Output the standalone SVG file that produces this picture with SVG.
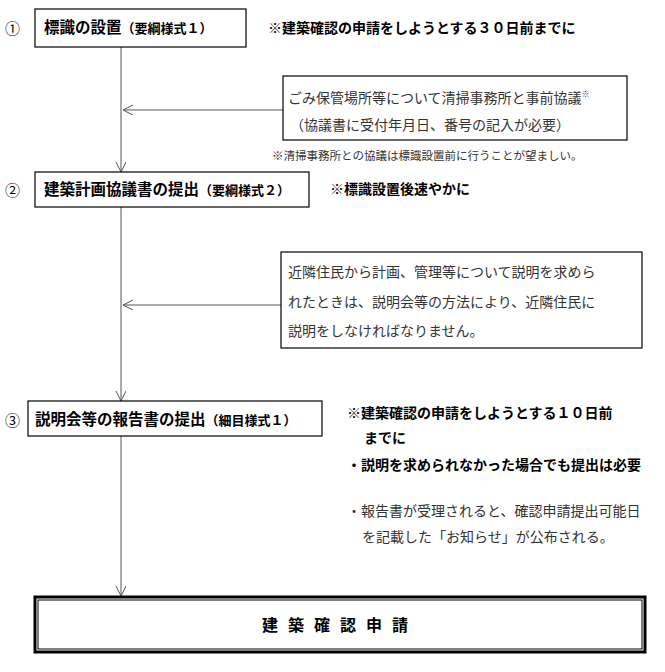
<svg xmlns="http://www.w3.org/2000/svg" width="665" height="672" viewBox="0 0 665 672">
<style>
text{font-family:"Noto Sans CJK JP","Liberation Sans",sans-serif;fill:#000}
.b{font-size:14px;font-weight:bold}
.lb{font-size:15.5px;font-weight:bold}
.p{font-size:13px}
.n{font-size:14px;fill:#333}
.s{font-size:11.5px;fill:#333}
.box{fill:#fff;stroke:#000;stroke-width:1.2}
.ln{stroke:#555;stroke-width:1;fill:none}
</style>
<defs><marker id="a" markerWidth="12" markerHeight="12" refX="10" refY="5" orient="auto" markerUnits="userSpaceOnUse"><path d="M0,0 L10,5 L0,10" fill="none" stroke="#555"/></marker></defs>
<rect width="665" height="672" fill="#fff"/>
<g id="connectors">
<line class="ln" x1="121" y1="47" x2="121" y2="172" marker-end="url(#a)"/>
<line class="ln" x1="121" y1="207" x2="121" y2="401" marker-end="url(#a)"/>
<line class="ln" x1="121" y1="436" x2="121" y2="596" marker-end="url(#a)"/>
<line class="ln" x1="283" y1="110" x2="123" y2="110" marker-end="url(#a)"/>
<line class="ln" x1="281" y1="305" x2="123" y2="305" marker-end="url(#a)"/>
</g>
<g id="n1"><text x="5" y="34" font-size="15">①</text><rect class="box" x="35" y="9" width="211" height="38"/><text x="44" y="33" class="lb">標識の設置<tspan class="p">（要綱様式１）</tspan></text></g>
<text x="268" y="33" class="b">※建築確認の申請をしようとする３０日前までに</text>
<g id="note1"><rect class="box" x="283" y="76" width="344" height="64"/><text x="288" y="103" class="n">ごみ保管場所等について清掃事務所と事前協議<tspan font-size="8" dy="-6">※</tspan></text><text x="290" y="130" class="n">（協議書に受付年月日、番号の記入が必要）</text></g>
<text x="272" y="160" class="s">※清掃事務所との協議は標識設置前に行うことが望ましい。</text>
<g id="n2"><text x="5" y="196" font-size="15">②</text><rect class="box" x="35" y="172" width="274" height="35"/><text x="44" y="195" class="lb">建築計画協議書の提出<tspan class="p">（要綱様式２）</tspan></text></g>
<text x="330" y="194" class="b">※標識設置後速やかに</text>
<g id="note2"><rect class="box" x="281" y="252" width="361" height="96"/>
<text x="288" y="277" class="n">近隣住民から計画、管理等について説明を求めら</text>
<text x="288" y="307" class="n">れたときは、説明会等の方法により、近隣住民に</text>
<text x="288" y="336" class="n">説明をしなければなりません。</text></g>
<g id="n3"><text x="5" y="426" font-size="15">③</text><rect class="box" x="28" y="401" width="294" height="35"/><text x="35" y="425" class="lb">説明会等の報告書の提出<tspan class="p">（細目様式１）</tspan></text></g>
<text x="347" y="418" class="b">※建築確認の申請をしようとする１０日前</text>
<text x="364" y="443" class="b">までに</text>
<text x="347" y="470" class="b">・説明を求められなかった場合でも提出は必要</text>
<text x="347" y="516" class="n">・報告書が受理されると、確認申請提出可能日</text>
<text x="362" y="542" class="n">を記載した「お知らせ」が公布される。</text>
<g id="final"><rect x="35" y="597" width="610" height="55" fill="#fff" stroke="#000" stroke-width="3"/><rect x="38" y="600" width="604" height="49" fill="none" stroke="#000" stroke-width="1"/><text x="340" y="631" font-size="16" font-weight="bold" text-anchor="middle" letter-spacing="10">建築確認申請</text></g>
</svg>
